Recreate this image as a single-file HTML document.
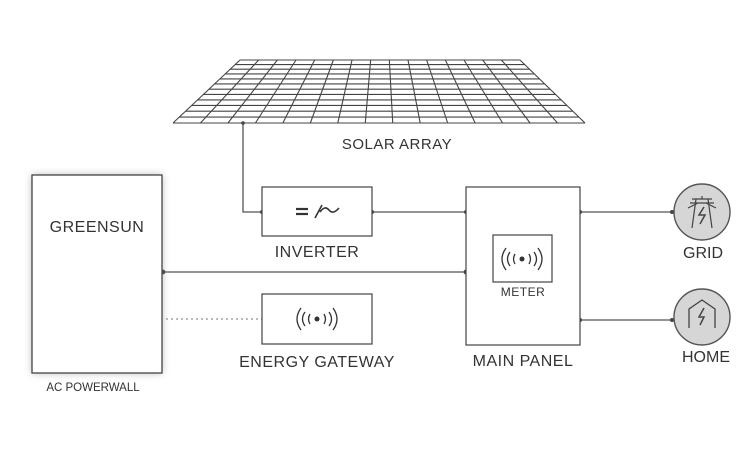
<!DOCTYPE html>
<html><head><style>
body{margin:0;background:#fff;}
svg{display:block;font-family:"Liberation Sans",sans-serif;}
</style></head><body>
<svg width="751" height="451" viewBox="0 0 751 451">
<defs>
<filter id="sh" x="-20%" y="-20%" width="140%" height="140%"><feGaussianBlur stdDeviation="4"/></filter>
</defs>
<g stroke="#444" stroke-width="1.1" fill="none" id="grid"></g>
<script>
(function(){
var g=document.getElementById('grid');var ns='http://www.w3.org/2000/svg';
var TL=240,TR=520,BL=173,BR=585,T=60,B=123,C=15,R=12;
function ln(a,b,c,d){var l=document.createElementNS(ns,'line');l.setAttribute('x1',a);l.setAttribute('y1',b);l.setAttribute('x2',c);l.setAttribute('y2',d);g.appendChild(l);}
for(var i=0;i<=C;i++){var f=i/C;ln(TL+(TR-TL)*f,T,BL+(BR-BL)*f,B);}
for(var j=0;j<=R;j++){var t=j/R;t=t*(0.85+0.15*t);var y=T+(B-T)*t;var l=TL+(BL-TL)*t,r=TR+(BR-TR)*t;ln(l,y,r,y);}
})();
</script>
<text x="397" y="149" font-size="15" fill="#333" text-anchor="middle" letter-spacing="0.5">SOLAR ARRAY</text>
<!-- connectors -->
<g stroke="#555" stroke-width="1.3" fill="none">
<polyline points="243,123 243,212 262,212"/>
<line x1="372" y1="212" x2="466" y2="212"/>
<line x1="163" y1="272" x2="466" y2="272"/>
<line x1="580" y1="212" x2="672" y2="212"/>
<line x1="580" y1="320" x2="672" y2="320"/>
</g>
<line x1="166" y1="319" x2="262" y2="319" stroke="#777" stroke-width="1" stroke-dasharray="2,3"/>
<g fill="#444">
<circle cx="243" cy="123" r="1.8"/><circle cx="262" cy="212" r="2"/><circle cx="372" cy="212" r="2"/><circle cx="466" cy="212" r="2"/>
<circle cx="163" cy="272" r="2.4"/><circle cx="466" cy="272" r="2.4"/><circle cx="580" cy="212" r="2"/><circle cx="580" cy="320" r="2"/>
<circle cx="672" cy="212" r="2"/><circle cx="672" cy="320" r="2"/>
</g>
<!-- powerwall -->
<rect x="32" y="175" width="130" height="198" fill="#888" filter="url(#sh)" opacity="0.6"/>
<rect x="32" y="175" width="130" height="198" fill="#fff" stroke="#444" stroke-width="1.3"/>
<text x="97" y="232" font-size="16" fill="#333" text-anchor="middle" letter-spacing="0.5">GREENSUN</text>
<text x="93" y="391" font-size="11.5" fill="#333" text-anchor="middle">AC POWERWALL</text>
<!-- inverter -->
<rect x="262" y="187" width="110" height="49" fill="#fff" stroke="#444" stroke-width="1.2"/>
<g stroke="#333" stroke-width="2.2" fill="none"><line x1="296" y1="209" x2="308" y2="209"/><line x1="296" y1="214" x2="308" y2="214"/></g>
<path d="M315 218 L322 205 M320 212 Q325 205 329 210 Q333 215 339 208" stroke="#333" stroke-width="1.6" fill="none"/>
<text x="317" y="257" font-size="16" fill="#333" text-anchor="middle" letter-spacing="0.5">INVERTER</text>
<!-- gateway -->
<rect x="262" y="294" width="110" height="50" fill="#fff" stroke="#444" stroke-width="1.2"/>
<g stroke="#333" stroke-width="1.3" fill="none" id="w1">
<path d="M305 312 Q300 319 305 326"/><path d="M301 308 Q293 319 301 330"/><path d="M310 314 Q307 319 310 324"/>
<path d="M329 312 Q334 319 329 326"/><path d="M333 308 Q341 319 333 330"/><path d="M324 314 Q327 319 324 324"/>
</g>
<circle cx="317" cy="319" r="2.5" fill="#333"/>
<text x="317" y="367" font-size="16" fill="#333" text-anchor="middle" letter-spacing="0.5">ENERGY GATEWAY</text>
<!-- main panel -->
<rect x="466" y="187" width="114" height="158" fill="#fff" stroke="#444" stroke-width="1.2"/>
<rect x="493" y="235" width="59" height="47" fill="#fff" stroke="#444" stroke-width="1.2"/>
<g stroke="#333" stroke-width="1.3" fill="none">
<path d="M510 252 Q505 259 510 266"/><path d="M506 248 Q498 259 506 270"/><path d="M515 254 Q512 259 515 264"/>
<path d="M534 252 Q539 259 534 266"/><path d="M538 248 Q546 259 538 270"/><path d="M529 254 Q532 259 529 264"/>
</g>
<circle cx="522" cy="259" r="2.5" fill="#333"/>
<text x="523" y="296" font-size="12" fill="#333" text-anchor="middle" letter-spacing="0.5">METER</text>
<text x="523" y="366" font-size="16" fill="#333" text-anchor="middle" letter-spacing="0.5">MAIN PANEL</text>
<!-- grid -->
<circle cx="702" cy="212" r="28" fill="#d6d6d6" stroke="#555" stroke-width="1.4"/>
<g stroke="#444" stroke-width="1.2" fill="none">
<path d="M690 203 L714 203 M692 199 L712 199 M702 196 L702 199 M696 199 L692 228 M708 199 L712 228 M698 203 L688 208 M706 203 L716 208"/>
<path d="M704 207 L699 215 L705 215 L700 224" stroke-width="1.5"/>
</g>
<text x="703" y="258" font-size="16" fill="#333" text-anchor="middle">GRID</text>
<!-- home -->
<circle cx="702" cy="317" r="28" fill="#d6d6d6" stroke="#555" stroke-width="1.4"/>
<path d="M689 328 L689 309 L702 300 L715 309 L715 328" stroke="#444" stroke-width="1.3" fill="none"/>
<path d="M704 308 L699 317 L704 317 L700 325" stroke="#444" stroke-width="1.5" fill="none"/>
<text x="706" y="362" font-size="16" fill="#333" text-anchor="middle">HOME</text>
</svg>
</body></html>
